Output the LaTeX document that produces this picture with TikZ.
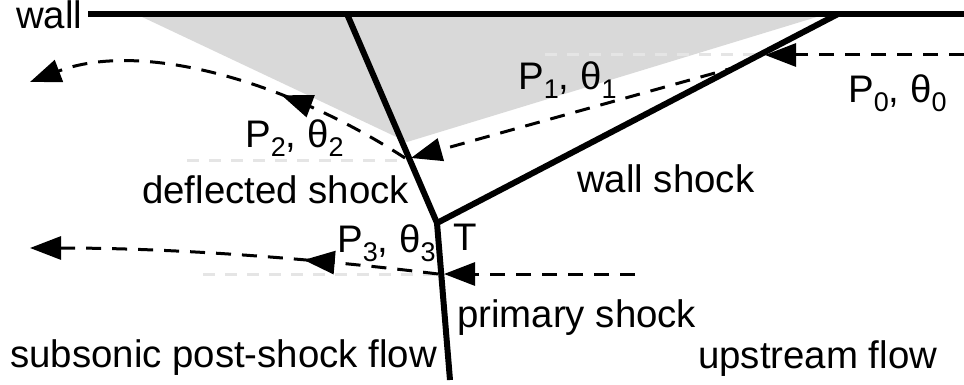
\documentclass[tikz,border=0pt]{standalone}
\usepackage{fontspec}
\setmainfont{Liberation Sans}
\usetikzlibrary{arrows.meta,decorations.markings}
\newcommand{\sbs}[1]{\raisebox{-9pt}{\fontsize{27}{27}\selectfont #1}}
\begin{document}
\begin{tikzpicture}[x=1pt,y=-1pt,
  shock/.style={line width=6pt},
  flow/.style={line width=3pt, dash pattern=on 15pt off 11pt},
  guide/.style={line width=3pt, dash pattern=on 12pt off 10pt, draw=black!10},
  tip/.style={-{Triangle[length=31pt,width=23pt]}},
  midarrow/.style={postaction={decorate, decoration={markings,
      mark=at position #1 with {\arrow{Triangle[length=31pt,width=23pt]}}}}},
  lbl/.style={font=\fontsize{38.4}{46}\selectfont, inner sep=0pt, anchor=base west}]
\useasboundingbox (0,0) rectangle (964,385);
% key points
\coordinate (wallL) at (88,14);
\coordinate (wallR) at (964,14);
\coordinate (DW) at (347,14);
\coordinate (WW) at (838,14);
\coordinate (T) at (437,223);
\coordinate (PB) at (450,380);
\coordinate (fillA) at (140,16);
\coordinate (fillB) at (820,16);
\coordinate (fillC) at (407,142);
% shaded region
\fill[black!15] (fillA) -- (fillB) -- (fillC) -- cycle;
% guides
\coordinate (g1a) at (545,55);  \coordinate (g1b) at (760,55);
\coordinate (g2a) at (187,161); \coordinate (g2b) at (405,161);
\coordinate (g3a) at (203,274); \coordinate (g3b) at (437,274);
\draw[guide] (g1a) -- (g1b);
\draw[guide] (g2a) -- (g2b);
\draw[guide] (g3a) -- (g3b);
% flow lines
\coordinate (f0s) at (964,55);  \coordinate (f0e) at (765,55);
\coordinate (f1s) at (740,66);  \coordinate (f1e) at (411,158);
\coordinate (f2s) at (405,158); \coordinate (f2e) at (30,82);
\coordinate (f4s) at (635,274); \coordinate (f4e) at (444,274);
\coordinate (f3s) at (438,274); \coordinate (f3e) at (30,248);
\draw[flow, tip] (f0s) -- (f0e);
\draw[flow, tip] (f1s) -- (f1e);
\draw[flow, tip, midarrow=0.35] (f2s) .. controls (285,80) and (140,40) .. (f2e);
\draw[flow, tip] (f4s) -- (f4e);
\draw[flow, tip, midarrow=0.33] (f3s) .. controls (350,263) and (200,248) .. (f3e);
% shocks and wall
\draw[shock] (wallL) -- (wallR);
\draw[shock, line join=miter] (DW) -- (T) -- (PB);
\draw[shock] (T) -- (WW);
% labels
\node[lbl] (wall) at (16,29) {wall};
\node[lbl] (defl) at (142,203) {deflected shock};
\node[lbl] (wsh) at (577,192) {wall shock};
\node[lbl] (prim) at (457,327) {primary shock};
\node[lbl] (up) at (698,368) {upstream flow};
\node[lbl] (sub) at (10,367) {subsonic post-shock flow};
\node[lbl] (Tl) at (453,250) {T};
\node[lbl] (p3) at (337,252) {P\sbs{3}, θ\sbs{3}};
\node[lbl] (p2) at (245,148) {P\sbs{2}, θ\sbs{2}};
\node[lbl] (p1) at (518,90) {P\sbs{1}, θ\sbs{1}};
\node[lbl] (p0) at (848,103) {P\sbs{0}, θ\sbs{0}};
\end{tikzpicture}
\end{document}
